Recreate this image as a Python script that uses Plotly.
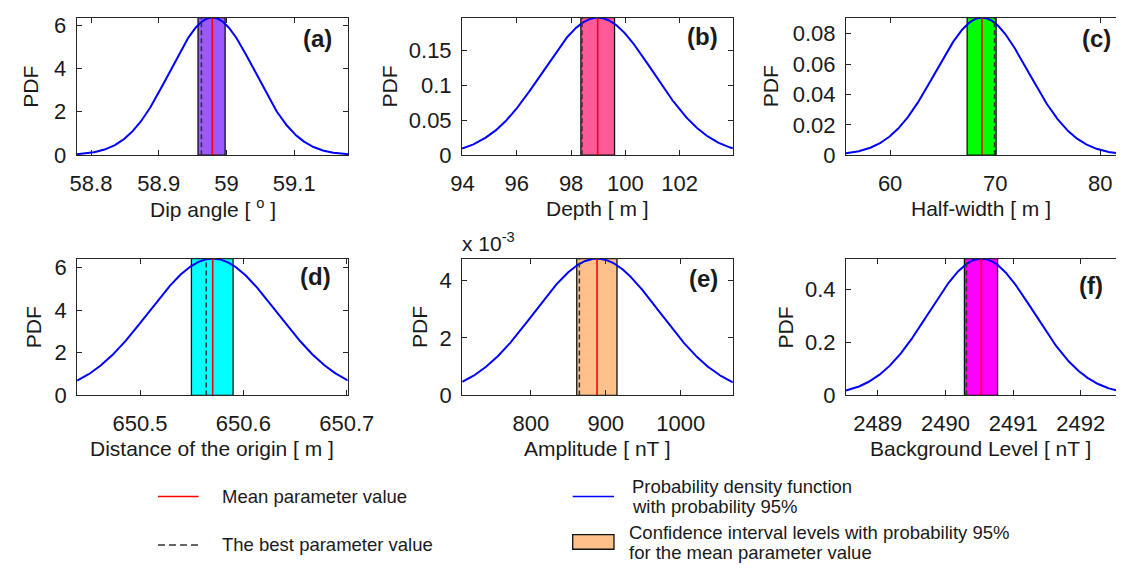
import numpy as np
import plotly.graph_objects as go

# ---- parameter estimates for the six model parameters ----
panel_labels = ["(a)", "(b)", "(c)", "(d)", "(e)", "(f)"]
x_titles = ["Dip angle [ <sup>o</sup> ]", "Depth [ m ]", "Half-width [ m ]",
            "Distance of the origin [ m ]", "Amplitude [ nT ]", "Background Level [ nT ]"]
mean_values = [58.979, 98.98, 68.74, 650.5703, 888.4, 2490.53]
std_values = [0.0629, 2.032, 4.40, 0.0622, 83.8, 0.775]
best_values = [58.963, 98.40, 69.94, 650.564, 864.8, 2490.31]
ci_low = [58.958, 98.36, 67.33, 650.5497, 861.3, 2490.28]
ci_high = [58.998, 99.60, 70.09, 650.590, 915.0, 2490.77]
x_start = [58.779, 93.98, 55.8, 650.439, 708.4, 2488.53]
x_end = [59.18, 103.96, 81.5, 650.701, 1069.7, 2492.52]

x_tickvals = [[58.8, 58.9, 59.0, 59.1], [94, 96, 98, 100, 102], [60, 70, 80],
              [650.5, 650.6, 650.7], [800, 900, 1000], [2489, 2490, 2491, 2492]]
x_ticktext = [["58.8", "58.9", "59", "59.1"], ["94", "96", "98", "100", "102"],
              ["60", "70", "80"], ["650.5", "650.6", "650.7"], ["800", "900", "1000"],
              ["2489", "2490", "2491", "2492"]]
y_tickvals = [[0, 2, 4, 6], [0, 0.05, 0.1, 0.15], [0, 0.02, 0.04, 0.06, 0.08],
              [0, 2, 4, 6], [0, 0.002, 0.004], [0, 0.2, 0.4]]
y_ticktext = [["0", "2", "4", "6"], ["0", "0.05", "0.1", "0.15"],
              ["0", "0.02", "0.04", "0.06", "0.08"], ["0", "2", "4", "6"],
              ["0", "2", "4"], ["0", "0.2", "0.4"]]

# ---- styling ----
W, H = 1142, 579
FONT = "Liberation Sans, Arial, Helvetica, sans-serif"
INK = "#1a1a1a"
AX = "#262626"
ci_colors = ["#9b59ff", "#ff5a98", "#00ff00", "#00ffff", "#ffc08a", "#ff00ff"]

# subplot boxes in pixels: (left, right, top, bottom)
boxes = [(67, 348, 13, 155), (465.5, 745.7, 13, 155), (862.7, 1142, 13, 155),
         (67.3, 347.3, 261.7, 403), (465.7, 745.7, 261.7, 403), (862.7, 1142, 261.7, 403)]
label_pos = [(0.947, 0.85), (0.952, 0.86), (0.99, 0.85),
             (0.946, 0.87), (0.952, 0.856), (0.96, 0.80)]


def px_x(v):
    return v / W


def px_y(v):
    return 1 - v / H


fig = go.Figure()
shapes = []
annotations = []
layout_axes = {}

for i in range(6):
    sfx = "" if i == 0 else str(i + 1)
    xa, ya = "x" + sfx, "y" + sfx
    l, r, t, b = boxes[i]

    m, s = mean_values[i], std_values[i]
    xs = np.linspace(x_start[i], x_end[i], 500)
    pdf = np.exp(-0.5 * ((xs - m) / s) ** 2) / (s * np.sqrt(2 * np.pi))
    peak = 1 / (s * np.sqrt(2 * np.pi))

    # confidence interval band
    shapes.append(dict(type="rect", xref=xa, yref=ya + " domain",
                       x0=ci_low[i], x1=ci_high[i], y0=0, y1=1,
                       fillcolor=ci_colors[i], line=dict(color="#111111", width=1.3),
                       layer="below"))

    fig.add_trace(go.Scatter(x=xs, y=pdf, mode="lines", xaxis=xa, yaxis=ya,
                             line=dict(color="#0000ff", width=2), showlegend=False,
                             hoverinfo="skip"))
    fig.add_trace(go.Scatter(x=[best_values[i], best_values[i]], y=[0, peak], mode="lines",
                             xaxis=xa, yaxis=ya, showlegend=False, hoverinfo="skip",
                             line=dict(color="#333333", width=1.5, dash="5px,3px")))
    fig.add_trace(go.Scatter(x=[m, m], y=[0, peak], mode="lines", xaxis=xa, yaxis=ya,
                             line=dict(color="#ff0000", width=1.6), showlegend=False,
                             hoverinfo="skip"))

    right_col = i in (2, 5)
    layout_axes["xaxis" + sfx] = dict(
        domain=[px_x(l), px_x(r)], anchor=ya, range=[x_start[i], x_end[i]],
        tickvals=x_tickvals[i], ticktext=x_ticktext[i], ticks="inside", ticklen=5,
        tickcolor=AX, showline=True, linecolor=AX, linewidth=1, mirror="ticks",
        showgrid=False, zeroline=False, ticklabelstandoff=8,
        tickfont=dict(family=FONT, size=22, color=INK))
    layout_axes["yaxis" + sfx] = dict(
        domain=[px_y(b), px_y(t)], anchor=xa, range=[0, peak],
        tickvals=y_tickvals[i], ticktext=y_ticktext[i], ticks="inside", ticklen=5,
        tickcolor=AX, showline=True, linecolor=AX, linewidth=1,
        mirror=False if right_col else "ticks",
        showgrid=False, zeroline=False, ticklabelstandoff=5,
        tickfont=dict(family=FONT, size=22, color=INK))

    # x-axis title
    annotations.append(dict(text=x_titles[i], xref="paper", yref="paper",
                            x=px_x((l + r) / 2), y=px_y(b + 55), xanchor="center",
                            yanchor="middle", showarrow=False,
                            font=dict(family=FONT, size=21, color=INK)))
    # y-axis title
    pdf_x = [19, 390, 785, 22, 421, 800][i]
    annotations.append(dict(text="PDF", xref="paper", yref="paper", textangle=-90,
                            x=px_x(pdf_x), y=px_y((t + b) / 2), xanchor="center",
                            yanchor="middle", showarrow=False,
                            font=dict(family=FONT, size=21, color=INK)))
    # panel tag
    lx, ly = label_pos[i]
    annotations.append(dict(text="<b>%s</b>" % panel_labels[i], xref=xa + " domain",
                            yref=ya + " domain", x=lx, y=ly, xanchor="right",
                            yanchor="middle", showarrow=False,
                            font=dict(family=FONT, size=24, color=INK)))

# exponent note for the amplitude panel
annotations.append(dict(text="x 10<sup>-3</sup>", xref="paper", yref="paper",
                        x=px_x(463), y=px_y(245), xanchor="left", yanchor="middle",
                        showarrow=False, font=dict(family=FONT, size=21, color=INK)))

# ---- legend drawn below the panels ----
shapes.append(dict(type="line", xref="paper", yref="paper", x0=px_x(151), x1=px_x(193),
                   y0=px_y(507.3), y1=px_y(507.3), line=dict(color="#ff0000", width=1.5)))
shapes.append(dict(type="line", xref="paper", yref="paper", x0=px_x(151), x1=px_x(193),
                   y0=px_y(557.3), y1=px_y(557.3),
                   line=dict(color="#333333", width=1.5, dash="7px,4px")))
shapes.append(dict(type="line", xref="paper", yref="paper", x0=px_x(580), x1=px_x(622.7),
                   y0=px_y(507.3), y1=px_y(507.3), line=dict(color="#0000ff", width=1.5)))
shapes.append(dict(type="rect", xref="paper", yref="paper", x0=px_x(580), x1=px_x(622.7),
                   y0=px_y(561.7), y1=px_y(546.7), fillcolor="#ffc08a",
                   line=dict(color="#111111", width=1.3)))

legend_text = [
    ("Mean parameter value", 215, 507.3),
    ("The best parameter value", 215, 557.3),
    ("Probability density function", 639, 496.7),
    ("with probability 95%", 639, 517.7),
    ("Confidence interval levels with probability 95%", 635.7, 544),
    ("for the mean parameter value", 635.7, 565),
]
for txt, x, y in legend_text:
    annotations.append(dict(text=txt, xref="paper", yref="paper", x=px_x(x), y=px_y(y),
                            xanchor="left", yanchor="middle", showarrow=False,
                            font=dict(family=FONT, size=18.5, color=INK)))

fig.update_layout(
    width=W, height=H, margin=dict(l=0, r=0, t=0, b=0),
    paper_bgcolor="white", plot_bgcolor="white", showlegend=False,
    shapes=shapes, annotations=annotations, **layout_axes)

fig.write_html("out.html")
